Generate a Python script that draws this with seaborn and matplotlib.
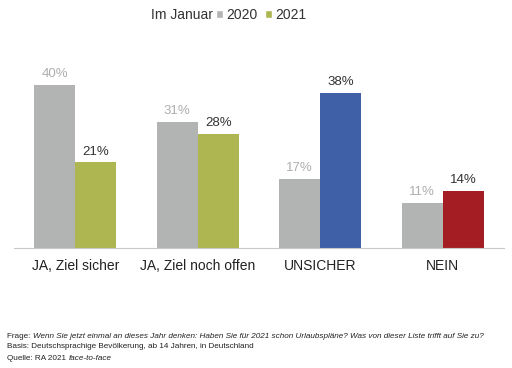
import pandas as pd
import seaborn as sns
import matplotlib.pyplot as plt
from matplotlib.patches import Patch

# data
categories = ['JA, Ziel sicher', 'JA, Ziel noch offen', 'UNSICHER', 'NEIN']
values_2020 = [40, 31, 17, 11]
values_2021 = [21, 28, 38, 14]
years = ['2020', '2021']

gray = '#B2B4B3'
colors_2021 = ['#AEB651', '#AEB651', '#3F5FA6', '#A31D22']

df = pd.DataFrame({
    'category': categories * 2,
    'year': ['2020'] * 4 + ['2021'] * 4,
    'value': values_2020 + values_2021,
})

sns.set_theme(style='white')
plt.rcParams['font.family'] = ['Liberation Sans', 'DejaVu Sans']

fig = plt.figure(figsize=(5.12, 3.68), dpi=100)
ax = fig.add_axes([14 / 512, 1 - 248 / 368, 490 / 512, 163 / 368])

sns.barplot(data=df, x='category', y='value', hue='year', order=categories,
            hue_order=years, palette=[gray, colors_2021[0]], width=0.67,
            saturation=1, legend=False, linewidth=0, ax=ax)

# recolor 2021 bars per category and add value labels
for container, year in zip(ax.containers, years):
    for i, bar in enumerate(container):
        bar.set_linewidth(0)
        if year == '2021':
            bar.set_facecolor(colors_2021[i])
            col = '#333333'
        else:
            col = '#AEAEAE'
        ax.text(bar.get_x() + bar.get_width() / 2, bar.get_height() + 1.2,
                f'{bar.get_height():.0f}%', ha='center', va='bottom',
                fontsize=9.5, color=col, clip_on=False)

ax.set_ylim(0, 40)
ax.set_xlim(-0.5, 3.5)
ax.set_yticks([])
ax.set_xlabel('')
ax.set_ylabel('')
for s in ['top', 'right', 'left']:
    ax.spines[s].set_visible(False)
ax.spines['bottom'].set_color('#C8C8C8')
ax.spines['bottom'].set_linewidth(0.8)
ax.tick_params(axis='x', length=0, pad=8, labelsize=10, labelcolor='#222222')

# legend at the top
fig.text(151 / 512, 1 - 15 / 368, 'Im Januar', fontsize=10, color='#333333',
         va='center', ha='left')
handles = [Patch(facecolor=gray), Patch(facecolor=colors_2021[0])]
fig.legend(handles, years, loc='center left', bbox_to_anchor=(216 / 512, 1 - 15 / 368),
           ncol=2, frameon=False, fontsize=10, handlelength=0.5, handleheight=0.5,
           handletextpad=0.25, columnspacing=0.5, borderpad=0, borderaxespad=0,
           labelcolor='#333333')

# footnote
fs = 5.85
y0 = 1 - 336 / 368
dy = 11 / 368
x0 = 7 / 512
t = fig.text(x0, y0, 'Frage: ', fontsize=fs, color='#222222', va='center')
fig.canvas.draw()
bb = t.get_window_extent()
fig.text(bb.x1 / fig.bbox.width, y0,
         'Wenn Sie jetzt einmal an dieses Jahr denken: Haben Sie für 2021 schon '
         'Urlaubspläne? Was von dieser Liste trifft auf Sie zu?',
         fontsize=fs, style='italic', color='#222222', va='center')
fig.text(x0, y0 - dy, 'Basis: Deutschsprachige Bevölkerung, ab 14 Jahren, in Deutschland',
         fontsize=fs, color='#222222', va='center')
t = fig.text(x0, y0 - 2 * dy, 'Quelle: RA 2021 ', fontsize=fs, color='#222222', va='center')
bb = t.get_window_extent()
fig.text(bb.x1 / fig.bbox.width, y0 - 2 * dy, 'face-to-face', fontsize=fs,
         style='italic', color='#222222', va='center')

fig.savefig('out.png', dpi=100)
